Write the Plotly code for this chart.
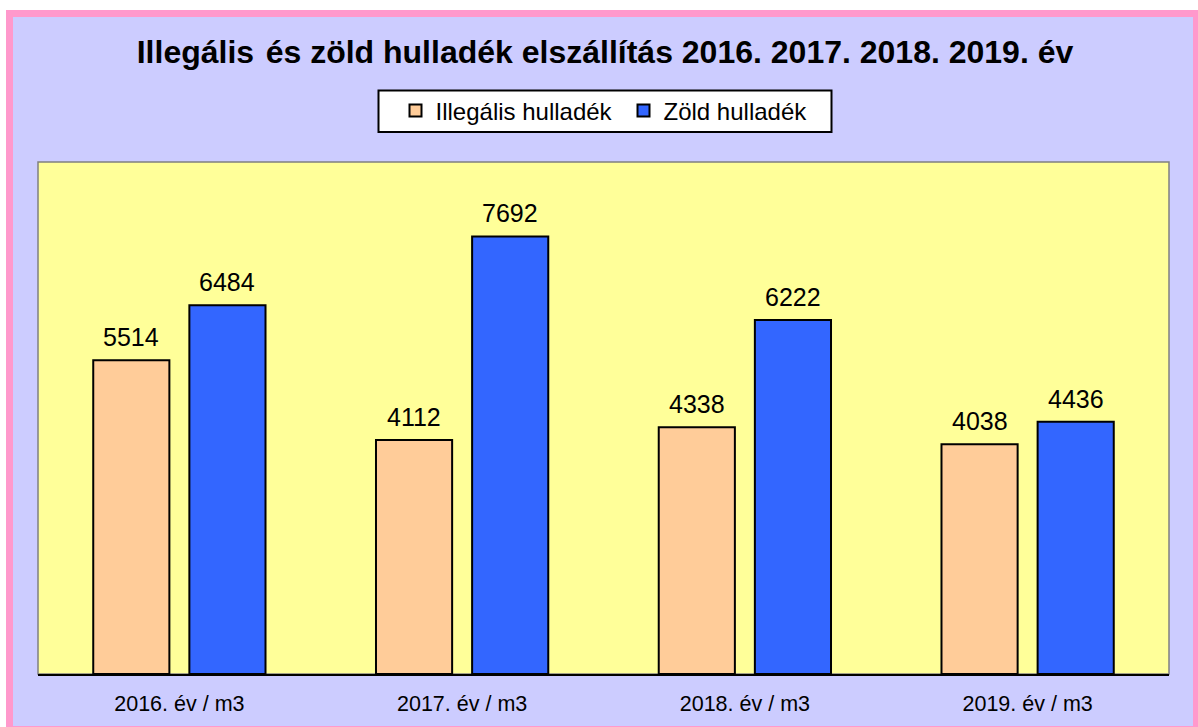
import plotly.graph_objects as go

categories = ["2016. év / m3", "2017. év / m3", "2018. év / m3", "2019. év / m3"]
illegalis = [5514, 4112, 4338, 4038]
zold = [6484, 7692, 6222, 4436]
series_names = ["Illegális hulladék", "Zöld hulladék"]
title_text = "Illegális \u200aés zöld hulladék elszállítás 2016. 2017. 2018. 2019. év"

W, H = 1198, 727
L, R, T, B = 38, 1169, 162, 674
FONT = "Liberation Sans, Arial, sans-serif"

def px(x):
    return (x - L) / (R - L)

def py(y):
    return (B - y) / (B - T)

fig = go.Figure()
fig.add_trace(go.Bar(
    x=categories, y=illegalis, name=series_names[0],
    marker=dict(color="#FFCC99", line=dict(color="black", width=2)),
))
fig.add_trace(go.Bar(
    x=categories, y=zold, name=series_names[1],
    marker=dict(color="#3366FF", line=dict(color="black", width=2)),
))

annotations = []
for vals, shift in ((illegalis, -48), (zold, 48)):
    for c, v in zip(categories, vals):
        annotations.append(dict(
            x=c, y=v, xref="x", yref="y", text=str(v), showarrow=False,
            xshift=shift, yshift=7, yanchor="bottom",
            font=dict(family=FONT, size=25, color="black"),
        ))

shapes = [
    dict(type="rect", xref="paper", yref="paper", layer="below",
         x0=px(9.5), x1=px(1196.5), y0=py(13.5), y1=py(729.5),
         fillcolor="#CCCCFF", line=dict(color="#FF99CC", width=7)),
    dict(type="rect", xref="paper", yref="paper", layer="below",
         x0=0, x1=1, y0=0, y1=1,
         fillcolor="#FFFF99", line=dict(color="#808080", width=1.5)),
    dict(type="rect", xref="paper", yref="paper", layer="below",
         x0=px(378.5), x1=px(831.5), y0=py(90.5), y1=py(132),
         fillcolor="white", line=dict(color="black", width=2)),
]

fig.update_layout(
    width=W, height=H,
    margin=dict(l=L, r=W - R, t=T, b=H - B, pad=0, autoexpand=False),
    paper_bgcolor="white", plot_bgcolor="#FFFF99",
    barmode="group", bargap=0.32, bargroupgap=0.208,
    title=dict(text="<b>" + title_text + "</b>", x=605 / W, xanchor="center",
               y=1 - 52 / H, yanchor="middle",
               font=dict(family=FONT, size=32, color="black")),
    legend=dict(orientation="h", x=395.5 / W, xref="container", xanchor="left",
                y=1 - 111 / H, yref="container", yanchor="middle",
                bgcolor="rgba(0,0,0,0)", borderwidth=0,
                entrywidth=183,
                font=dict(family=FONT, size=24, color="black"),
                traceorder="normal"),
    xaxis=dict(showline=True, linecolor="black", linewidth=2, ticks="",
               tickfont=dict(family=FONT, size=21.5, color="black"),
               ticklabelstandoff=9, showgrid=False, zeroline=False,
               automargin=False),
    yaxis=dict(range=[0, 9000], visible=False, showgrid=False, zeroline=False,
               automargin=False),
    shapes=shapes, annotations=annotations, showlegend=True,
)

fig.write_html("out.html", config={"displayModeBar": False},
               post_script="document.body.style.margin='0';document.body.style.overflow='hidden';")
